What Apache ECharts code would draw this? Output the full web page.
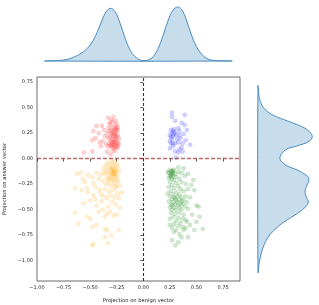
<!DOCTYPE html>
<html><head><meta charset="utf-8">
<script src="https://cdn.jsdelivr.net/npm/echarts@6/dist/echarts.min.js"></script>
<style>html,body{margin:0;padding:0;background:#fff}#c{width:319px;height:305px}</style>
</head><body><div id="c"></div>
<script>
// ---- data ----
const xTicks = [-1.0, -0.75, -0.5, -0.25, 0, 0.25, 0.5, 0.75];
const yTicks = [-1.0, -0.75, -0.5, -0.25, 0, 0.25, 0.5, 0.75];

const redPts = [[-0.33,0.40],[-0.28,0.41],[-0.30,0.38],[-0.44,0.32],[-0.39,0.32],[-0.47,0.27],[-0.42,0.25],[-0.45,0.20],[-0.48,0.18],[-0.41,0.16],[-0.38,0.17],[-0.48,0.07],[-0.56,0.06],[-0.34,0.07],[-0.31,0.04],[-0.28,0.07],[-0.36,0.22],[-0.40,0.12],[-0.35,0.14],[-0.37,0.28],
[-0.32,0.35],[-0.29,0.36],[-0.26,0.37],[-0.25,0.34],[-0.31,0.33],[-0.27,0.32],[-0.24,0.31],[-0.33,0.30],[-0.29,0.30],[-0.26,0.29],[-0.30,0.28],[-0.24,0.28],[-0.32,0.27],[-0.28,0.26],[-0.25,0.26],[-0.34,0.25],[-0.30,0.24],[-0.27,0.24],[-0.24,0.23],[-0.31,0.22],[-0.28,0.22],[-0.25,0.21],[-0.33,0.20],[-0.29,0.20],[-0.26,0.19],[-0.23,0.19],[-0.31,0.18],[-0.28,0.18],[-0.25,0.17],[-0.30,0.16],[-0.27,0.16],[-0.24,0.15],[-0.32,0.15],[-0.29,0.14],[-0.26,0.14],[-0.23,0.14],[-0.31,0.13],[-0.28,0.13],[-0.25,0.12],[-0.30,0.12],[-0.27,0.11],[-0.24,0.11],[-0.33,0.12],[-0.29,0.10],[-0.26,0.09],[-0.28,0.16],[-0.26,0.22],[-0.29,0.25],[-0.27,0.28],[-0.25,0.30]];

const bluePts = [[0.27,0.45],[0.27,0.41],[0.39,0.43],[0.30,0.37],[0.36,0.35],[0.39,0.33],[0.41,0.28],[0.33,0.30],[0.26,0.28],[0.28,0.27],[0.30,0.26],[0.27,0.25],[0.29,0.24],[0.25,0.23],[0.31,0.23],[0.28,0.22],[0.34,0.23],[0.35,0.20],[0.25,0.17],[0.26,0.15],[0.28,0.15],[0.30,0.15],[0.33,0.16],[0.37,0.15],[0.44,0.135],[0.28,0.12],[0.30,0.07],[0.33,0.06],[0.37,0.07],[0.31,0.01],[0.34,0.09],[0.27,0.19],[0.32,0.19],[0.38,0.24],[0.26,0.21],[0.29,0.29],[0.34,0.27],[0.36,0.11],[0.40,0.18],[0.25,0.10]];

const orangePts = [[-0.625,-0.15],[-0.59,-0.14],[-0.52,-0.16],[-0.48,-0.18],[-0.55,-0.23],[-0.64,-0.29],[-0.58,-0.31],[-0.53,-0.29],[-0.45,-0.28],[-0.41,-0.31],[-0.47,-0.36],[-0.56,-0.44],[-0.50,-0.41],[-0.44,-0.46],[-0.39,-0.42],[-0.34,-0.39],[-0.31,-0.36],[-0.27,-0.375],[-0.23,-0.39],[-0.20,-0.33],[-0.25,-0.28],[-0.64,-0.53],[-0.61,-0.64],[-0.53,-0.57],[-0.50,-0.59],[-0.48,-0.67],[-0.44,-0.65],[-0.36,-0.57],[-0.34,-0.54],[-0.28,-0.56],[-0.36,-0.69],[-0.34,-0.70],[-0.30,-0.75],[-0.23,-0.70],[-0.33,-0.83],[-0.47,-0.84],[-0.48,-0.85],[-0.36,-0.77],
[-0.42,-0.20],[-0.38,-0.22],[-0.35,-0.25],[-0.33,-0.21],[-0.30,-0.27],[-0.27,-0.24],[-0.24,-0.22],[-0.22,-0.26],[-0.36,-0.30],[-0.32,-0.32],[-0.28,-0.31],[-0.24,-0.34],[-0.40,-0.35],[-0.37,-0.37],[-0.29,-0.42],[-0.26,-0.45],[-0.22,-0.48],[-0.33,-0.47],[-0.38,-0.50],[-0.42,-0.52],[-0.31,-0.52],[-0.25,-0.55],[-0.45,-0.40],[-0.52,-0.33],[-0.57,-0.20],[-0.47,-0.24],
[-0.30,-0.02],[-0.27,-0.03],[-0.33,-0.04],[-0.29,-0.05],[-0.25,-0.05],[-0.35,-0.06],[-0.31,-0.07],[-0.27,-0.07],[-0.24,-0.08],[-0.37,-0.09],[-0.33,-0.09],[-0.29,-0.09],[-0.26,-0.10],[-0.31,-0.11],[-0.28,-0.11],[-0.25,-0.12],[-0.35,-0.12],[-0.30,-0.13],[-0.27,-0.13],[-0.29,-0.14],[-0.28,-0.15],[-0.26,-0.15],[-0.30,-0.16],[-0.27,-0.16],[-0.32,-0.17],[-0.29,-0.18],[-0.26,-0.18],[-0.24,-0.17],[-0.34,-0.19],[-0.31,-0.20],[-0.28,-0.20],[-0.25,-0.21],[-0.36,-0.15],[-0.38,-0.13],[-0.33,-0.14],[-0.29,-0.22],[-0.32,-0.24],[-0.26,-0.27],[-0.28,-0.12],[-0.27,-0.14],[-0.30,-0.10],[-0.40,-0.16],[-0.44,-0.14],[-0.22,-0.12]];

const greenPts = [[0.47,-0.21],[0.48,-0.31],[0.50,-0.46],[0.52,-0.47],[0.53,-0.57],[0.56,-0.69],[0.48,-0.70],[0.42,-0.77],[0.36,-0.77],[0.33,-0.82],[0.27,-0.80],[0.30,-0.85],[0.33,-0.085],[0.38,-0.095],[0.23,-0.13],[0.45,-0.26],[0.44,-0.38],[0.46,-0.55],[0.41,-0.62],[0.38,-0.70],[0.29,-0.72],[0.25,-0.65],[0.44,-0.65],[0.34,-0.74],[0.40,-0.68],[0.50,-0.62],
[0.25,-0.11],[0.27,-0.12],[0.29,-0.11],[0.26,-0.13],[0.28,-0.14],[0.24,-0.14],[0.27,-0.15],[0.26,-0.16],[0.30,-0.15],[0.25,-0.17],[0.28,-0.17],[0.33,-0.13],[0.36,-0.14],[0.31,-0.18],[0.39,-0.17],[0.24,-0.19],[0.27,-0.20],[0.34,-0.20],[0.29,-0.21],[0.42,-0.15],[0.26,-0.18],[0.28,-0.12],
[0.25,-0.23],[0.31,-0.24],[0.36,-0.23],[0.27,-0.26],[0.33,-0.27],[0.40,-0.25],[0.24,-0.28],[0.29,-0.29],[0.35,-0.30],[0.26,-0.32],[0.31,-0.33],[0.38,-0.32],[0.28,-0.35],[0.34,-0.35],[0.42,-0.30],[0.23,-0.34],
[0.25,-0.37],[0.29,-0.38],[0.32,-0.37],[0.36,-0.38],[0.40,-0.37],[0.27,-0.40],[0.31,-0.41],[0.34,-0.40],[0.38,-0.41],[0.24,-0.42],[0.28,-0.43],[0.32,-0.43],[0.36,-0.42],[0.41,-0.43],[0.26,-0.45],[0.30,-0.45],[0.33,-0.46],[0.37,-0.45],[0.25,-0.48],[0.29,-0.48],[0.34,-0.48],[0.39,-0.47],[0.27,-0.50],[0.31,-0.50],[0.36,-0.50],[0.42,-0.49],[0.30,-0.39],[0.35,-0.44],[0.27,-0.46],
[0.26,-0.53],[0.30,-0.54],[0.34,-0.53],[0.38,-0.55],[0.28,-0.57],[0.33,-0.58],[0.37,-0.59],[0.25,-0.59],[0.31,-0.61],[0.35,-0.63],[0.29,-0.64],[0.40,-0.60],[0.33,-0.66],[0.27,-0.68],[0.37,-0.67],[0.31,-0.70]];

// top marginal density of x
const kdeTopX = [-0.921,-0.749,-0.656,-0.562,-0.500,-0.453,-0.406,-0.359,-0.312,-0.265,-0.218,-0.171,-0.125,-0.078,-0.031,0.007,0.047,0.094,0.141,0.188,0.235,0.281,0.322,0.360,0.406,0.453,0.500,0.547,0.594,0.656,0.828];
const kdeTopD = [0,0.03,0.11,0.28,0.48,0.73,1.08,1.43,1.58,1.48,1.13,0.68,0.33,0.13,0.03,0.01,0.03,0.13,0.38,0.78,1.23,1.53,1.62,1.55,1.23,0.78,0.43,0.21,0.08,0.02,0];
// right marginal density of y
const kdeRightY = [0.711,0.579,0.497,0.431,0.382,0.333,0.283,0.217,0.168,0.125,0.086,0.004,-0.062,-0.112,-0.171,-0.210,-0.276,-0.325,-0.375,-0.424,-0.474,-0.539,-0.622,-0.704,-0.787,-0.901,-1.016,-1.115];
const kdeRightD = [0,0.05,0.17,0.42,0.77,1.17,1.47,1.62,1.52,1.17,0.82,0.65,0.82,1.17,1.47,1.52,1.44,1.40,1.44,1.50,1.42,1.17,0.77,0.47,0.27,0.12,0.04,0];

const xLabel = 'Projection on benign vector';
const yLabel = 'Projection on answer vector';

// ---- chart ----
const fmt = v => (Math.abs(v) < 1e-9 ? '0.00' : (v < 0 ? '\u2212' + (-v).toFixed(2) : v.toFixed(2)));
const FONT = 'DejaVu Sans';
const chart = echarts.init(document.getElementById('c'), null, {renderer: 'canvas'});

function kdeSeries(xi, yi, xs, ys) {
  return {
    type: 'custom', xAxisIndex: xi, yAxisIndex: yi, silent: true,
    data: [0],
    renderItem: function (params, api) {
      const pts = xs.map((x, i) => api.coord([x, ys[i]]));
      return {
        type: 'polygon',
        shape: {points: pts, smooth: 0.35},
        style: {fill: 'rgba(31,119,180,0.25)', stroke: '#4a8cc0', lineWidth: 1}
      };
    }
  };
}

const scat = (pts, color) => ({
  type: 'scatter', xAxisIndex: 0, yAxisIndex: 0, data: pts, symbolSize: 4.2, silent: true,
  itemStyle: {color: color, opacity: 0.18, borderColor: color, borderWidth: 0.5}
});

chart.setOption({
  animation: false,
  grid: [
    {left: 37, top: 77, width: 203, height: 204, show: true, borderColor: '#444', borderWidth: 0.8, backgroundColor: 'transparent', outerBoundsMode: 'none', containLabel: false},
    {left: 37, top: 3, width: 203, height: 58, outerBoundsMode: 'none', containLabel: false},
    {left: 258, top: 77, width: 59, height: 204, outerBoundsMode: 'none', containLabel: false}
  ],
  xAxis: [
    {gridIndex: 0, type: 'value', min: -1.0, max: 0.91, splitLine: {show: false},
      axisLine: {show: false}, axisTick: {show: true, length: 3, lineStyle: {color: '#333', width: 0.8}, customValues: xTicks},
      axisLabel: {fontSize: 5, color: '#222', fontFamily: FONT, margin: 4, formatter: fmt, customValues: xTicks},
      name: xLabel, nameLocation: 'middle', nameGap: 17, nameTextStyle: {fontSize: 5.2, color: '#222', fontFamily: FONT}},
    {gridIndex: 1, type: 'value', min: -1.0, max: 0.91, show: false},
    {gridIndex: 2, type: 'value', min: 0, max: 1.76, show: false}
  ],
  yAxis: [
    {gridIndex: 0, type: 'value', min: -1.2, max: 0.8, splitLine: {show: false},
      axisLine: {show: false}, axisTick: {show: true, length: 3, lineStyle: {color: '#333', width: 0.8}, customValues: yTicks},
      axisLabel: {fontSize: 5, color: '#222', fontFamily: FONT, margin: 4, formatter: fmt, customValues: yTicks},
      name: yLabel, nameLocation: 'middle', nameGap: 28, nameRotate: 90, nameTextStyle: {fontSize: 5.2, color: '#222', fontFamily: FONT}},
    {gridIndex: 1, type: 'value', min: 0, max: 1.74, show: false},
    {gridIndex: 2, type: 'value', min: -1.2, max: 0.8, show: false}
  ],
  series: [
    scat(orangePts, '#ffa500'),
    scat(greenPts, '#008000'),
    scat(redPts, '#ff0000'),
    scat(bluePts, '#0000ff'),
    {type: 'line', xAxisIndex: 0, yAxisIndex: 0, data: [], silent: true,
      markLine: {silent: true, symbol: 'none', label: {show: false}, animation: false,
        data: [
          {yAxis: 0, lineStyle: {color: 'rgba(165,42,42,0.7)', type: [4, 2], width: 1.3}},
          {xAxis: 0, lineStyle: {color: '#800080', type: [3, 2], width: 1.1}}
        ]}},
    kdeSeries(1, 1, kdeTopX, kdeTopD),
    kdeSeries(2, 2, kdeRightD, kdeRightY)
  ]
});
</script></body></html>
